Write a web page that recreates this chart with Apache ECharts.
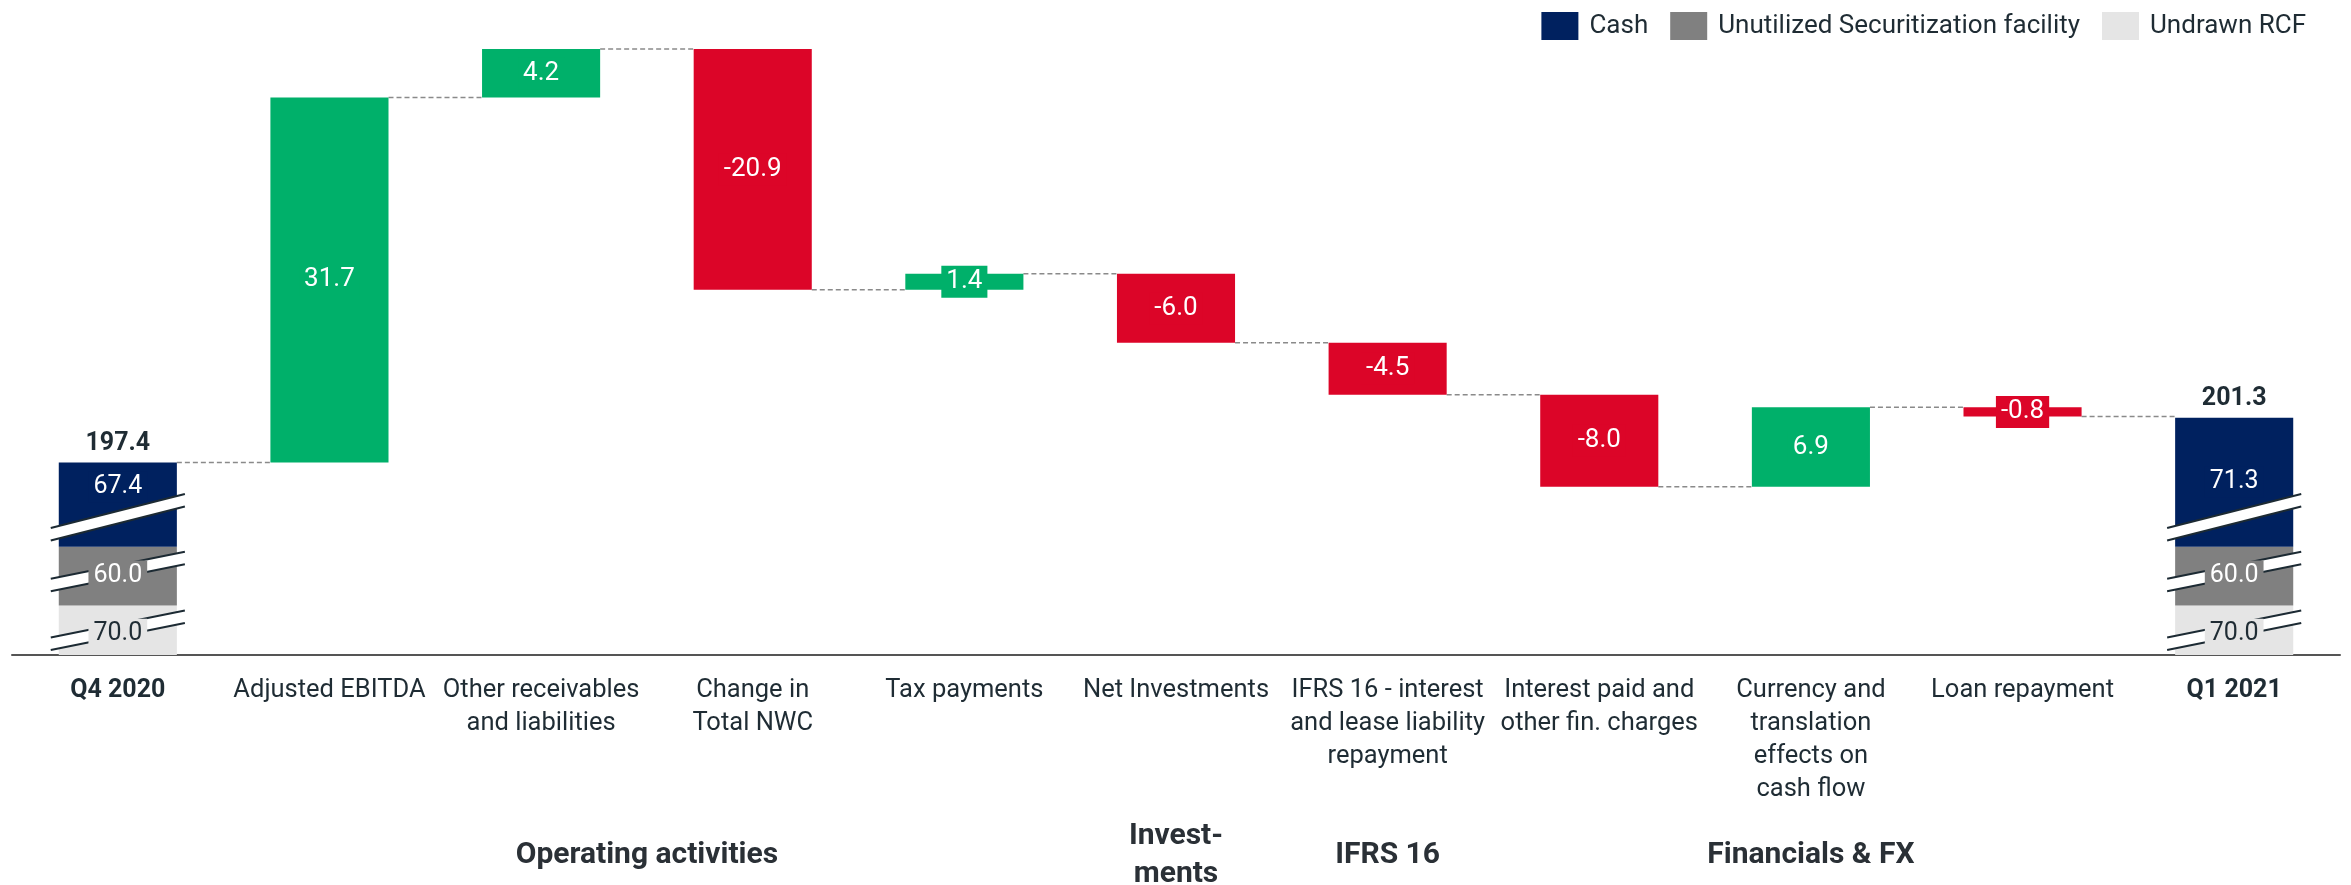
<!DOCTYPE html>
<html>
<head>
<meta charset="utf-8">
<script src="https://cdn.jsdelivr.net/npm/echarts@6/dist/echarts.min.js"></script>
<style>
  html, body { margin: 0; padding: 0; background: #ffffff; }
  #chart { width: 2351px; height: 885px; }
</style>
</head>
<body>
<div id="chart"></div>
<script>
// ---- Data ---------------------------------------------------------------
const categories = [
  'Q4 2020',
  'Adjusted EBITDA',
  'Other receivables\nand liabilities',
  'Change in\nTotal NWC',
  'Tax payments',
  'Net Investments',
  'IFRS 16 - interest\nand lease liability\nrepayment',
  'Interest paid and\nother fin. charges',
  'Currency and\ntranslation\neffects on\ncash flow',
  'Loan repayment',
  'Q1 2021'
];
// Liquidity components: [opening, closing]
const undrawnRcf = [70.0, 70.0];
const securitization = [60.0, 60.0];
const cash = [67.4, 71.3];
// Cash-flow movements between opening and closing
const movements = [31.7, 4.2, -20.9, 1.4, -6.0, -4.5, -8.0, 6.9, -0.8];
// Section headings below the categories
const groupNames = ['Operating activities', 'Invest-\nments', 'IFRS 16', 'Financials & FX'];
const groupSpans = [[1, 4], [5, 5], [6, 6], [7, 9]];

// ---- Styling --------------------------------------------------------------
const FONT = 'Roboto, "Noto Sans", sans-serif';
const TEXT = '#1f2c34';
const NAVY = '#00215f';
const GREY = '#808080';
const LIGHT = '#e5e5e5';
const GREEN = '#00b06a';
const RED = '#dc0528';
const BAR_FRAC = 0.558;

// Value-axis breaks that compress each liquidity component
const axisBreaks = [
  { start: 1.6, end: 68.4, gap: 1.1 },
  { start: 72.4, end: 128.4, gap: 1.1 },
  { start: 132.0, end: 193.2, gap: 1.1 }
];

// ---- Derived series ------------------------------------------------------
const r1 = v => Math.round(v * 10) / 10;
const last = categories.length - 1;
const opening = r1(undrawnRcf[0] + securitization[0] + cash[0]);
const closing = r1(undrawnRcf[1] + securitization[1] + cash[1]);

const levels = [opening];
movements.forEach(d => levels.push(r1(levels[levels.length - 1] + d)));

const blank = () => categories.map(() => '-');
const baseData = blank(), upData = blank(), downData = blank();
movements.forEach((d, j) => {
  const i = j + 1;
  baseData[i] = Math.min(levels[j], levels[j + 1]);
  if (d >= 0) upData[i] = d; else downData[i] = -d;
});

const rcfData = blank(), secData = blank(), cashData = blank();
rcfData[0] = undrawnRcf[0]; rcfData[last] = undrawnRcf[1];
secData[0] = securitization[0]; secData[last] = securitization[1];
cashData[0] = cash[0]; cashData[last] = cash[1];

const peak = Math.max(...levels, closing);

const moveLabel = {
  show: true,
  position: 'inside',
  color: '#ffffff',
  fontFamily: FONT,
  fontSize: 26,
  padding: [3, 5],
  formatter: p => movements[p.dataIndex - 1].toFixed(1)
};

// Break marks, component labels and totals on the opening/closing bars
function renderLiquidity(params, api) {
  const i = api.value(0);
  const parts = [api.value(1), api.value(2), api.value(3)];
  const fills = [LIGHT, GREY, NAVY];
  const inks = [TEXT, '#ffffff', '#ffffff'];
  const rises = [27, 27, 34];
  const bandW = api.size([1, 0])[0];
  const bw = bandW * BAR_FRAC;
  const cx = api.coord([i, 0])[0];
  const hl = bw / 2 + 8;
  const sep = 12.5;
  const marks = [], labels = [];
  let lo = 0;
  parts.forEach((v, k) => {
    const hi = lo + v;
    const brk = axisBreaks[k];
    const cy = api.coord([i, (brk.start + brk.end) / 2])[1];
    const rise = rises[k];
    const uL = cy - sep / 2 + rise / 2, uR = cy - sep / 2 - rise / 2;
    marks.push({
      type: 'polygon',
      shape: { points: [[cx - hl, uL], [cx + hl, uR], [cx + hl, uR + sep], [cx - hl, uL + sep]] },
      style: { fill: '#ffffff' }
    });
    marks.push({ type: 'line', shape: { x1: cx - hl, y1: uL, x2: cx + hl, y2: uR },
      style: { stroke: '#1c2a33', lineWidth: 2 } });
    marks.push({ type: 'line', shape: { x1: cx - hl, y1: uL + sep, x2: cx + hl, y2: uR + sep },
      style: { stroke: '#1c2a33', lineWidth: 2 } });
    const yLo = api.coord([i, lo])[1];
    const yHi = api.coord([i, hi])[1];
    let ly = (yLo + yHi) / 2;
    if (k === 0) ly += 4;
    if (k === 2) ly = Math.min(ly, cy - sep / 2 - 24);
    labels.push({
      type: 'text',
      style: {
        text: v.toFixed(1), x: cx, y: ly, align: 'center', verticalAlign: 'middle',
        fill: inks[k], fontFamily: FONT, fontSize: 25,
        backgroundColor: fills[k], padding: [3, 5]
      }
    });
    lo = hi;
  });
  const yTop = api.coord([i, lo])[1];
  labels.push({
    type: 'text',
    style: {
      text: r1(lo).toFixed(1), x: cx, y: yTop - 6, align: 'center', verticalAlign: 'bottom',
      fill: TEXT, fontFamily: FONT, fontSize: 25, fontWeight: 'bold'
    }
  });
  return { type: 'group', children: marks.concat(labels) };
}

// Dashed connectors between consecutive bars
function renderLink(params, api) {
  const i = api.value(0);
  const p = api.coord([i, api.value(1)]);
  const bandW = api.size([1, 0])[0];
  const hw = bandW * BAR_FRAC / 2;
  return {
    type: 'line',
    shape: { x1: p[0] + hw, y1: p[1], x2: p[0] + bandW - hw, y2: p[1] },
    style: { stroke: '#8a8a8a', lineWidth: 1.5, lineDash: [5, 3] }
  };
}

const chart = echarts.init(document.getElementById('chart'), null, { renderer: 'canvas' });

chart.setOption({
  animation: false,
  backgroundColor: '#ffffff',
  legend: {
    data: ['Cash', 'Unutilized Securitization facility', 'Undrawn RCF'],
    right: 40, top: 7,
    icon: 'rect', itemWidth: 37, itemHeight: 28, itemGap: 22,
    selectedMode: false,
    textStyle: { fontFamily: FONT, fontSize: 26, color: TEXT, padding: [0, 0, 0, 6] }
  },
  grid: { left: 12, right: 11, top: 49, bottom: 230, containLabel: false, outerBoundsMode: 'none' },
  xAxis: {
    type: 'category',
    data: categories,
    axisLine: { show: true, lineStyle: { color: '#555555', width: 2 } },
    axisTick: { show: false },
    axisLabel: {
      interval: 0, margin: 19, fontFamily: FONT, fontSize: 25.5, lineHeight: 33, color: TEXT,
      formatter: (v, idx) => (idx === 0 || idx === last) ? '{b|' + v + '}' : v,
      rich: { b: { fontFamily: FONT, fontSize: 25, lineHeight: 33, fontWeight: 'bold', color: TEXT } }
    },
    splitLine: { show: false }
  },
  yAxis: {
    type: 'value',
    show: false,
    min: 0,
    max: peak,
    splitLine: { show: false },
    breaks: axisBreaks,
    breakArea: { show: false, itemStyle: { color: 'rgba(0,0,0,0)', borderColor: 'rgba(0,0,0,0)', opacity: 0 } }
  },
  series: [
    { name: 'Undrawn RCF', type: 'bar', stack: 'all', barWidth: (BAR_FRAC * 100) + '%',
      data: rcfData, itemStyle: { color: LIGHT } },
    { name: 'Unutilized Securitization facility', type: 'bar', stack: 'all',
      data: secData, itemStyle: { color: GREY } },
    { name: 'Cash', type: 'bar', stack: 'all', data: cashData, itemStyle: { color: NAVY } },
    { name: 'base', type: 'bar', stack: 'all', data: baseData,
      itemStyle: { color: 'rgba(0,0,0,0)' }, emphasis: { disabled: true }, silent: true },
    { name: 'increase', type: 'bar', stack: 'all', data: upData,
      itemStyle: { color: GREEN }, label: Object.assign({}, moveLabel, { backgroundColor: GREEN }) },
    { name: 'decrease', type: 'bar', stack: 'all', data: downData,
      itemStyle: { color: RED }, label: Object.assign({}, moveLabel, { backgroundColor: RED }) },
    { name: 'links', type: 'custom', renderItem: renderLink, z: 1, silent: true,
      data: levels.map((v, i) => [i, v]) },
    { name: 'liquidity', type: 'custom', renderItem: renderLiquidity, z: 5, silent: true, clip: false,
      data: [
        [0, undrawnRcf[0], securitization[0], cash[0]],
        [last, undrawnRcf[1], securitization[1], cash[1]]
      ] }
  ]
});

// Section headings centred under their categories
const xOf = idx => chart.convertToPixel({ gridIndex: 0 }, [idx, 0])[0];
chart.setOption({
  graphic: groupNames.map((name, g) => ({
    type: 'text',
    x: (xOf(groupSpans[g][0]) + xOf(groupSpans[g][1])) / 2,
    y: 855,
    style: {
      text: name, align: 'center', verticalAlign: 'middle',
      fontFamily: FONT, fontSize: 30, fontWeight: 'bold', fill: '#2a3036', lineHeight: 38
    }
  }))
});
</script>
</body>
</html>
